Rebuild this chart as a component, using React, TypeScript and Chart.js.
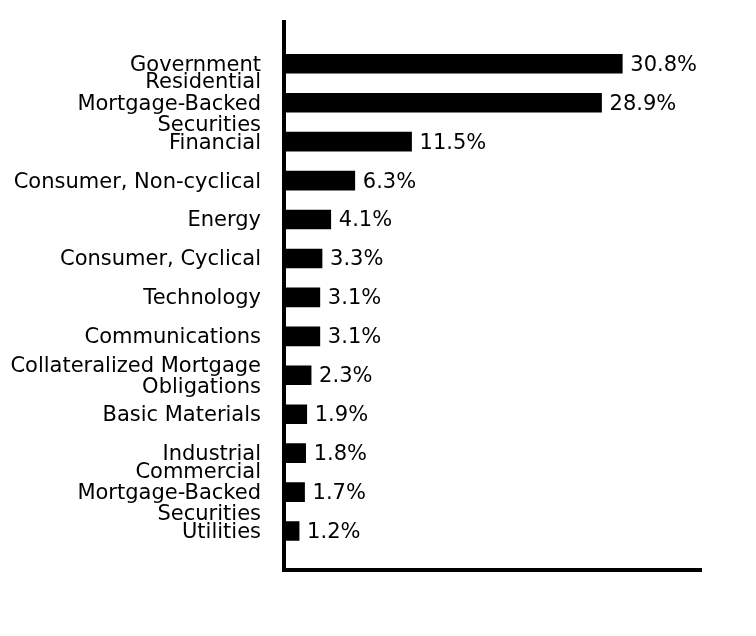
import React, { useEffect, useRef } from "react";
import { Chart, registerables } from "chart.js";

Chart.register(...registerables);

const categories: (string | string[])[] = [
  "Government",
  ["Residential", "Mortgage-Backed", "Securities"],
  "Financial",
  "Consumer, Non-cyclical",
  "Energy",
  "Consumer, Cyclical",
  "Technology",
  "Communications",
  ["Collateralized Mortgage", "Obligations"],
  "Basic Materials",
  "Industrial",
  ["Commercial", "Mortgage-Backed", "Securities"],
  "Utilities",
];

const values: number[] = [30.8, 28.9, 11.5, 6.3, 4.1, 3.3, 3.1, 3.1, 2.3, 1.9, 1.8, 1.7, 1.2];

const FONT = "'DejaVu Sans', Verdana, sans-serif";

const valueLabels = {
  id: "valueLabels",
  afterDatasetsDraw(chart: any) {
    const ctx = chart.ctx;
    const meta = chart.getDatasetMeta(0);
    ctx.save();
    ctx.fillStyle = "#000";
    ctx.font = `21px ${FONT}`;
    ctx.textAlign = "left";
    ctx.textBaseline = "middle";
    meta.data.forEach((bar: any, i: number) => {
      ctx.fillText(values[i].toFixed(1) + "%", bar.x + 8, bar.y + 1.5);
    });
    ctx.restore();
  },
};

const axisLines = {
  id: "axisLines",
  afterDraw(chart: any) {
    const ctx = chart.ctx;
    const a = chart.chartArea;
    ctx.save();
    ctx.fillStyle = "#000";
    ctx.fillRect(a.left - 4, 20, 4, 552);
    ctx.fillRect(a.left - 4, 568, a.right - a.left + 4, 4);
    ctx.restore();
  },
};

export default function App() {
  const ref = useRef<HTMLCanvasElement>(null);
  useEffect(() => {
    document.body.style.margin = "0";
    const chart = new Chart(ref.current!, {
      type: "bar",
      data: {
        labels: categories,
        datasets: [
          {
            data: values,
            backgroundColor: "#000",
            barThickness: 19,
          },
        ],
      },
      options: {
        indexAxis: "y",
        responsive: false,
        animation: false,
        layout: { padding: { left: 0, right: 54, top: 44.3, bottom: 85.5 } },
        plugins: { legend: { display: false }, tooltip: { enabled: false } },
        scales: {
          x: { display: false, min: 0, max: 38.1 },
          y: {
            grid: { display: false, drawTicks: false },
            border: { display: false },
            afterFit(scale: any) {
              scale.width = 286;
            },
            ticks: {
              autoSkip: false,
              padding: 25,
              labelOffset: 1.5,
              color: "#000",
              font: { family: FONT, size: 21, lineHeight: 1.02 },
            },
          },
        },
      },
      plugins: [valueLabels, axisLines],
    });
    return () => chart.destroy();
  }, []);
  return (
    <div style={{ width: 756, height: 636 }}>
      <canvas ref={ref} width={756} height={636} style={{ display: "block" }} />
    </div>
  );
}
